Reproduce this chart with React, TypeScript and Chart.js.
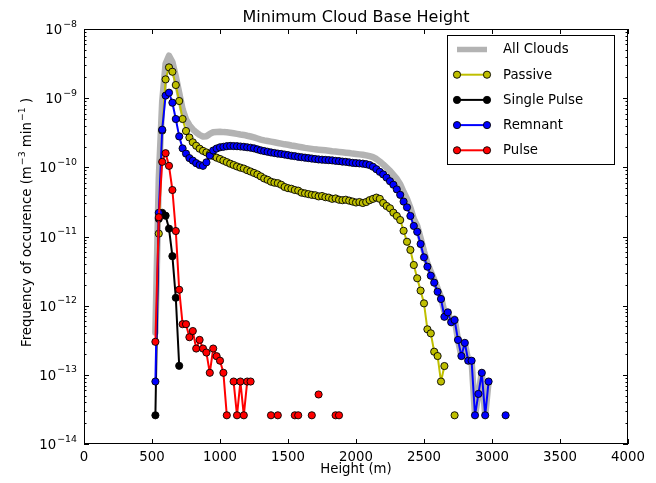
import React, { useEffect, useRef } from "react";
import { Chart, registerables } from "chart.js";

Chart.register(...registerables);

// ---------- data ----------
const heights = [
  525, 550, 575, 600, 625, 650, 675, 700, 725, 750,
  775, 800, 825, 850, 875, 900, 925, 950, 975, 1000,
  1025, 1050, 1075, 1100, 1125, 1150, 1175, 1200, 1225, 1250,
  1275, 1300, 1325, 1350, 1375, 1400, 1425, 1450, 1475, 1500,
  1525, 1550, 1575, 1600, 1625, 1650, 1675, 1700, 1725, 1750,
  1775, 1800, 1825, 1850, 1875, 1900, 1925, 1950, 1975, 2000,
  2025, 2050, 2075, 2100, 2125, 2150, 2175, 2200, 2225, 2250,
  2275, 2300, 2325, 2350, 2375, 2400, 2425, 2450, 2475, 2500,
  2525, 2550, 2575, 2600, 2625, 2650, 2675, 2700, 2725, 2750,
  2775, 2800, 2825, 2850, 2875, 2900, 2925, 2950, 2975, 3000,
  3025, 3050, 3075, 3100,
];

const allClouds = [
  4.1e-13, 7.0e-11, 8.9e-10, 3.14e-9, 4.11e-9, 3.32e-9, 2.06e-9, 1.19e-9, 6.9e-10, 4.93e-10,
  4.06e-10, 3.55e-10, 3.2e-10, 2.94e-10, 2.78e-10, 2.82e-10, 3.04e-10, 3.21e-10, 3.25e-10, 3.27e-10,
  3.23e-10, 3.21e-10, 3.17e-10, 3.11e-10, 3.05e-10, 2.99e-10, 2.94e-10, 2.86e-10, 2.79e-10, 2.71e-10,
  2.61e-10, 2.52e-10, 2.45e-10, 2.4e-10, 2.35e-10, 2.3e-10, 2.25e-10, 2.2e-10, 2.15e-10, 2.12e-10,
  2.07e-10, 2.03e-10, 1.99e-10, 1.95e-10, 1.91e-10, 1.88e-10, 1.85e-10, 1.82e-10, 1.8e-10, 1.78e-10,
  1.76e-10, 1.74e-10, 1.71e-10, 1.69e-10, 1.67e-10, 1.65e-10, 1.63e-10, 1.61e-10, 1.58e-10, 1.56e-10,
  1.54e-10, 1.52e-10, 1.49e-10, 1.45e-10, 1.4e-10, 1.32e-10, 1.21e-10, 1.1e-10, 9.9e-11, 8.9e-11,
  7.8e-11, 6.8e-11, 5.7e-11, 4.4e-11, 3.5e-11, 2.6e-11, 1.8e-11, 1.42e-11, 9.5e-12, 6.1e-12,
  4.1e-12, 3.1e-12, 2.37e-12, 1.78e-12, 1.33e-12, 8.2e-13, 8.0e-13, 5.75e-13, 6.5e-13, 3.2e-13,
  1.87e-13, 2.9e-13, 1.6e-13, 1.6e-13, 2.6e-14, 5.3e-14, 1.07e-13, 2.6e-14, 8e-14, null,
  null, null, null, 2.6e-14,
];

const passive = [
  null, 1.1e-11, 3.4e-10, 1.87e-9, 2.79e-9, 2.41e-9, 1.55e-9, 9.1e-10, 5.0e-10, 3.35e-10,
  2.7e-10, 2.3e-10, 2.05e-10, 1.86e-10, 1.73e-10, 1.64e-10, 1.56e-10, 1.46e-10, 1.38e-10, 1.32e-10,
  1.25e-10, 1.19e-10, 1.13e-10, 1.08e-10, 1.03e-10, 9.9e-11, 9.6e-11, 9.1e-11, 8.7e-11, 8.3e-11,
  7.9e-11, 7.4e-11, 6.9e-11, 6.6e-11, 6.2e-11, 6.0e-11, 5.9e-11, 5.6e-11, 5.2e-11, 5.0e-11,
  4.9e-11, 4.7e-11, 4.6e-11, 4.3e-11, 4.2e-11, 4.1e-11, 4.0e-11, 3.95e-11, 3.8e-11, 3.85e-11,
  3.7e-11, 3.65e-11, 3.5e-11, 3.55e-11, 3.4e-11, 3.35e-11, 3.4e-11, 3.3e-11, 3.2e-11, 3.1e-11,
  3.15e-11, 3.05e-11, 3.15e-11, 3.35e-11, 3.5e-11, 3.65e-11, 3.5e-11, 3.05e-11, 2.76e-11, 2.56e-11,
  2.21e-11, 1.98e-11, 1.73e-11, 1.21e-11, 8.4e-12, 6.4e-12, 3.87e-12, 2.49e-12, 1.65e-12, 1.08e-12,
  4.55e-13, 3.98e-13, 2.16e-13, 1.87e-13, 8.0e-14, 1.34e-13, null, null, 2.6e-14, null,
  null, null, null, null, null, null, null, null, null, null,
  null, null, null, null,
];

const singlePulse = [
  2.6e-14, 1.8e-11, 2.2e-11, 2.0e-11, 1.3e-11, 5.2e-12, 1.3e-12, 1.35e-13, null, null,
  null, null, null, null, null, null, null, null, null, null,
  null, null, null, null, null, null, null, null, null, null,
  null, null, null, null, null, null, null, null, null, null,
  null, null, null, null, null, null, null, null, null, null,
  null, null, null, null, null, null, null, null, null, null,
  null, null, null, null, null, null, null, null, null, null,
  null, null, null, null, null, null, null, null, null, null,
  null, null, null, null, null, null, null, null, null, null,
  null, null, null, null, null, null, null, null, null, null,
  null, null, null, null,
];

const remnant = [
  8e-14, 2.2e-11, 3.5e-10, 1.09e-9, 1.2e-9, 8.6e-10, 5.0e-10, 2.8e-10, 1.88e-10, 1.58e-10,
  1.36e-10, 1.25e-10, 1.15e-10, 1.08e-10, 1.05e-10, 1.18e-10, 1.48e-10, 1.75e-10, 1.87e-10, 1.95e-10,
  1.98e-10, 2.02e-10, 2.04e-10, 2.03e-10, 2.02e-10, 2.0e-10, 1.98e-10, 1.95e-10, 1.92e-10, 1.88e-10,
  1.82e-10, 1.76e-10, 1.72e-10, 1.68e-10, 1.64e-10, 1.61e-10, 1.58e-10, 1.56e-10, 1.53e-10, 1.5e-10,
  1.47e-10, 1.45e-10, 1.42e-10, 1.4e-10, 1.38e-10, 1.36e-10, 1.34e-10, 1.32e-10, 1.3e-10, 1.29e-10,
  1.28e-10, 1.27e-10, 1.26e-10, 1.24e-10, 1.23e-10, 1.21e-10, 1.2e-10, 1.18e-10, 1.16e-10, 1.15e-10,
  1.14e-10, 1.13e-10, 1.11e-10, 1.08e-10, 1.02e-10, 9.4e-11, 8.6e-11, 7.9e-11, 7.1e-11, 6.3e-11,
  5.6e-11, 4.8e-11, 4.0e-11, 3.2e-11, 2.64e-11, 1.98e-11, 1.42e-11, 1.17e-11, 7.8e-12, 5.0e-12,
  3.66e-12, 2.71e-12, 2.15e-12, 1.59e-12, 1.25e-12, 6.9e-13, 8.0e-13, 5.75e-13, 6.2e-13, 3.2e-13,
  1.87e-13, 2.9e-13, 1.6e-13, 1.6e-13, 2.6e-14, 5.3e-14, 1.07e-13, 2.6e-14, 8e-14, null,
  null, null, null, 2.6e-14,
];

const pulse = [
  3.0e-13, 1.9e-11, 1.2e-10, 1.6e-10, 1.05e-10, 4.7e-11, 1.2e-11, 1.7e-12, 5.4e-13, 5.4e-13,
  3.5e-13, 4.3e-13, 2.4e-13, 3.2e-13, 2.4e-13, 2.1e-13, 1.07e-13, 2.4e-13, 1.86e-13, 1.6e-13,
  1.07e-13, 2.6e-14, null, 8e-14, 2.6e-14, 8e-14, 2.6e-14, 8e-14, 8e-14, null,
  null, null, null, null, 2.6e-14, null, 2.6e-14, null, null, null,
  null, 2.6e-14, 2.6e-14, null, null, null, 2.6e-14, null, 5.2e-14, null,
  null, null, null, 2.6e-14, 2.6e-14, null, null, null, null, null,
  null, null, null, null, null, null, null, null, null, null,
  null, null, null, null, null, null, null, null, null, null,
  null, null, null, null, null, null, null, null, null, null,
  null, null, null, null, null, null, null, null, null, null,
  null, null, null, null,
];

const seriesLabels = ["All Clouds", "Passive", "Single Pulse", "Remnant", "Pulse"];
const xTickValues = [0, 500, 1000, 1500, 2000, 2500, 3000, 3500, 4000];
const yDecades = [-14, -13, -12, -11, -10, -9, -8];
const titleText = "Minimum Cloud Base Height";
const xLabelText = "Height (m)";

// ---------- styling ----------
const FONT = '"DejaVu Sans", Verdana, sans-serif';
const COLORS = ["#b3b3b3", "#bfbf00", "#000000", "#0000ff", "#ff0000"];
const LINE_W = [6.5, 2, 2, 2, 2];
const HAS_MARKER = [false, true, true, true, true];
const MARKER_R = 3.6;

export default function App() {
  const ref = useRef<HTMLCanvasElement | null>(null);

  useEffect(() => {
    document.body.style.margin = "0";
    const canvas = ref.current!;
    const allSeries = [allClouds, passive, singlePulse, remnant, pulse];

    const datasets = allSeries.map((vals, i) => ({
      label: seriesLabels[i],
      data: heights.map((h, k) => ({ x: h, y: vals[k] })),
      borderColor: COLORS[i],
      backgroundColor: COLORS[i],
      borderWidth: LINE_W[i],
      pointRadius: HAS_MARKER[i] ? MARKER_R : 0,
      pointHoverRadius: HAS_MARKER[i] ? MARKER_R : 0,
      pointBackgroundColor: COLORS[i],
      pointBorderColor: "#000000",
      pointBorderWidth: 0.9,
      borderJoinStyle: "round" as const,
      borderCapStyle: "round" as const,
      tension: 0,
      spanGaps: false,
      order: allSeries.length - i,
    }));

    const decor = {
      id: "mplDecor",
      afterDraw(chart: any) {
        const ctx: CanvasRenderingContext2D = chart.ctx;
        const ca = chart.chartArea;
        const xs = chart.scales.x;
        const ys = chart.scales.y;
        ctx.save();

        // frame
        ctx.strokeStyle = "#000";
        ctx.lineWidth = 1;
        ctx.strokeRect(ca.left + 0.5, ca.top + 0.5, ca.right - ca.left - 1, ca.bottom - ca.top - 1);

        // x ticks
        ctx.beginPath();
        xTickValues.forEach((v) => {
          const x = Math.round(xs.getPixelForValue(v)) + 0.5;
          ctx.moveTo(x, ca.bottom);
          ctx.lineTo(x, ca.bottom - 5);
          ctx.moveTo(x, ca.top);
          ctx.lineTo(x, ca.top + 5);
        });
        // y ticks
        yDecades.forEach((d) => {
          const y = Math.round(ys.getPixelForValue(Math.pow(10, d))) + 0.5;
          ctx.moveTo(ca.left, y);
          ctx.lineTo(ca.left + 5, y);
          ctx.moveTo(ca.right, y);
          ctx.lineTo(ca.right - 5, y);
          if (d < -8) {
            for (let m = 2; m <= 9; m++) {
              const ym = Math.round(ys.getPixelForValue(m * Math.pow(10, d))) + 0.5;
              ctx.moveTo(ca.left, ym);
              ctx.lineTo(ca.left + 2.5, ym);
              ctx.moveTo(ca.right, ym);
              ctx.lineTo(ca.right - 2.5, ym);
            }
          }
        });
        ctx.stroke();

        ctx.fillStyle = "#000";
        // x tick labels
        ctx.font = `13.3px ${FONT}`;
        ctx.textAlign = "center";
        ctx.textBaseline = "alphabetic";
        xTickValues.forEach((v) => {
          ctx.fillText(String(v), xs.getPixelForValue(v), ca.bottom + 17);
        });

        // y tick labels 10^d
        yDecades.forEach((d) => {
          const y = ys.getPixelForValue(Math.pow(10, d));
          const sup = "\u2212" + String(-d);
          ctx.font = `13.3px ${FONT}`;
          const wb = ctx.measureText("10").width;
          ctx.font = `9.4px ${FONT}`;
          const ws = ctx.measureText(sup).width;
          const x0 = 77 - wb - ws - 1;
          ctx.textAlign = "left";
          ctx.font = `13.3px ${FONT}`;
          ctx.fillText("10", x0, y + 5);
          ctx.font = `9.4px ${FONT}`;
          ctx.fillText(sup, x0 + wb + 1, y - 2.5);
        });

        // title
        ctx.font = `16px ${FONT}`;
        ctx.textAlign = "center";
        ctx.fillText(titleText, (ca.left + ca.right) / 2, 21.5);

        // x label
        ctx.font = `13.3px ${FONT}`;
        ctx.fillText(xLabelText, (ca.left + ca.right) / 2, 473);

        // y label with superscripts
        ctx.save();
        ctx.translate(31, 347);
        ctx.rotate(-Math.PI / 2);
        ctx.textAlign = "left";
        const parts: [string, boolean][] = [
          ["Frequency of occurence (m", false],
          ["\u22123", true],
          [" min", false],
          ["\u22121", true],
          [" )", false],
        ];
        let px = 0;
        parts.forEach(([t, sup]) => {
          ctx.font = sup ? `9.4px ${FONT}` : `13.3px ${FONT}`;
          ctx.fillText(t, px + (sup ? 1 : 0), sup ? -6.5 : 0);
          px += ctx.measureText(t).width + (sup ? 1 : 0);
        });
        ctx.restore();

        // legend
        const lx = 447.5, ly = 35.5, lw = 167, lh = 129;
        ctx.fillStyle = "#fff";
        ctx.fillRect(lx, ly, lw, lh);
        ctx.strokeStyle = "#000";
        ctx.lineWidth = 1;
        ctx.strokeRect(lx, ly, lw, lh);
        seriesLabels.forEach((lab, i) => {
          const y = 49.5 + i * 25.2;
          const x1 = 457, x2 = 487;
          ctx.strokeStyle = COLORS[i];
          ctx.lineWidth = i === 0 ? 5.5 : 2;
          ctx.lineCap = "butt";
          ctx.beginPath();
          ctx.moveTo(x1, y);
          ctx.lineTo(x2, y);
          ctx.stroke();
          if (HAS_MARKER[i]) {
            [x1, x2].forEach((mx) => {
              ctx.beginPath();
              ctx.arc(mx, y, MARKER_R, 0, Math.PI * 2);
              ctx.fillStyle = COLORS[i];
              ctx.fill();
              ctx.strokeStyle = "#000";
              ctx.lineWidth = 0.9;
              ctx.stroke();
            });
          }
          ctx.fillStyle = "#000";
          ctx.font = `13.3px ${FONT}`;
          ctx.textAlign = "left";
          ctx.textBaseline = "middle";
          ctx.fillText(lab, 503, y + 0.5);
        });
        ctx.restore();
      },
    };

    const chart = new Chart(canvas, {
      type: "line",
      data: { datasets: datasets as any },
      options: {
        animation: false,
        responsive: false,
        devicePixelRatio: 1,
        events: [],
        layout: { padding: { left: 84, right: 28, top: 29, bottom: 39 } },
        plugins: {
          legend: { display: false },
          tooltip: { enabled: false },
          title: { display: false },
        },
        scales: {
          x: { type: "linear", display: false, min: 0, max: 4000 },
          y: { type: "logarithmic", display: false, min: 1e-14, max: 1e-8 },
        },
      },
      plugins: [decor],
    });

    return () => chart.destroy();
  }, []);

  return (
    <div style={{ width: 656, height: 483, background: "#fff" }}>
      <canvas ref={ref} width={656} height={483} style={{ display: "block", width: 656, height: 483 }} />
    </div>
  );
}
